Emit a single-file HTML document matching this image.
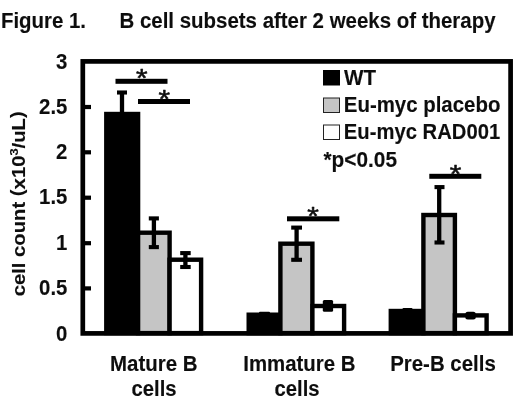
<!DOCTYPE html>
<html><head><meta charset="utf-8"><title>Figure 1</title>
<style>
html,body{margin:0;padding:0;background:#fff;}
svg{display:block;}
text{font-family:"Liberation Sans",Arial,Helvetica,sans-serif;font-weight:bold;fill:#0c0c0c;stroke:#0c0c0c;stroke-width:0.1px;stroke-linejoin:round;}
text.ast{font-weight:normal;stroke-width:0.55px;}
</style></head>
<body>
<svg width="520" height="403" viewBox="0 0 520 403">
<defs><filter id="soft" x="0" y="0" width="520" height="403" filterUnits="userSpaceOnUse"><feGaussianBlur stdDeviation="0.5"/></filter></defs>
<rect x="0" y="0" width="520" height="403" fill="#fff"/>
<g filter="url(#soft)">
<!-- title -->
<text x="1" y="27.8" font-size="21.2" textLength="85" lengthAdjust="spacingAndGlyphs">Figure 1.</text>
<text x="119.5" y="27.8" font-size="21.2" textLength="376" lengthAdjust="spacingAndGlyphs">B cell subsets after 2 weeks of therapy</text>

<!-- bars -->
<g stroke="#000" stroke-width="4.4" stroke-linejoin="miter">
<rect x="106.3" y="114" width="31.8" height="219" fill="#000"/>
<rect x="138.1" y="232.7" width="31.5" height="100.4" fill="#c5c5c5"/>
<rect x="169.6" y="259.7" width="31.5" height="73.4" fill="#fff"/>

<rect x="248.7" y="314.7" width="31.7" height="18.4" fill="#000"/>
<rect x="280.4" y="243.7" width="32" height="89.4" fill="#c5c5c5"/>
<rect x="312.4" y="306" width="31.7" height="27.1" fill="#fff"/>

<rect x="390.8" y="311" width="32.6" height="22.1" fill="#000"/>
<rect x="423.4" y="215" width="31.5" height="118.1" fill="#c5c5c5"/>
<rect x="454.9" y="315.4" width="31.7" height="17.7" fill="#fff"/>
</g>

<!-- frame -->
<rect x="82.8" y="61.4" width="427.8" height="272" fill="none" stroke="#000" stroke-width="4.7"/>
<!-- ticks -->
<g stroke="#000" stroke-width="4.2">
<line x1="84" y1="107" x2="91" y2="107"/>
<line x1="84" y1="152.3" x2="91" y2="152.3"/>
<line x1="84" y1="197.7" x2="91" y2="197.7"/>
<line x1="84" y1="243.2" x2="91" y2="243.2"/>
<line x1="84" y1="288.4" x2="91" y2="288.4"/>
</g>

<!-- error bars -->
<g stroke="#000" fill="none">
<g stroke-width="4.3">
<line x1="122" y1="92" x2="122" y2="113"/>
<line x1="153.9" y1="218" x2="153.9" y2="247"/>
<line x1="185.4" y1="252" x2="185.4" y2="268"/>
<line x1="296.6" y1="227" x2="296.6" y2="260"/>
<line x1="439.2" y1="187" x2="439.2" y2="243"/>
</g>
<g stroke-width="4.1">
<line x1="117" y1="92.5" x2="127" y2="92.5"/>
<line x1="148.8" y1="218.4" x2="158.9" y2="218.4"/>
<line x1="148.8" y1="247.1" x2="158.9" y2="247.1"/>
<line x1="180.2" y1="253.1" x2="190.7" y2="253.1"/>
<line x1="180.2" y1="267" x2="190.7" y2="267"/>
<line x1="291.2" y1="227.6" x2="302" y2="227.6"/>
<line x1="291.2" y1="259.8" x2="302" y2="259.8"/>
<line x1="434.5" y1="187.1" x2="444.5" y2="187.1"/>
<line x1="434.5" y1="242.5" x2="444.5" y2="242.5"/>
</g>
</g>
<rect x="259" y="311.7" width="11" height="2" rx="1" fill="#000"/>
<rect x="402.5" y="308" width="10" height="2" rx="1" fill="#000"/>
<rect x="322.8" y="299.9" width="10.3" height="11.8" rx="1.5" fill="#000"/>
<rect x="465.3" y="311.8" width="10.5" height="7.8" rx="2.5" fill="#000"/>

<!-- significance bars -->
<g fill="#000">
<rect x="115.5" y="78.8" width="52" height="5"/>
<rect x="138" y="99" width="52" height="5"/>
<rect x="287" y="216.3" width="52.3" height="5"/>
<rect x="429.3" y="173.8" width="52" height="5"/>
</g>
<g font-size="26.5" text-anchor="middle">
<text class="ast" transform="translate(141.7,87.2) scale(1.12,1)">*</text>
<text class="ast" transform="translate(164.2,108.2) scale(1.12,1)">*</text>
<text class="ast" transform="translate(312.9,224.9) scale(1.12,1)">*</text>
<text class="ast" transform="translate(455.4,182.6) scale(1.12,1)">*</text>
</g>

<!-- legend -->
<rect x="323.5" y="70.5" width="16" height="14.5" fill="#000" stroke="#000" stroke-width="1"/>
<rect x="323.5" y="98" width="16" height="14.5" fill="#c5c5c5" stroke="#222" stroke-width="1"/>
<rect x="323.5" y="125" width="16" height="14.5" fill="#fff" stroke="#222" stroke-width="1"/>
<text x="344" y="85" font-size="21.2" textLength="32" lengthAdjust="spacingAndGlyphs">WT</text>
<text x="343.8" y="111.8" font-size="21.2" textLength="156.6" lengthAdjust="spacingAndGlyphs">Eu-myc placebo</text>
<text x="343.8" y="138.8" font-size="21.2" textLength="156.4" lengthAdjust="spacingAndGlyphs">Eu-myc RAD001</text>
<text x="323.5" y="167" font-size="21.2" textLength="73.5" lengthAdjust="spacingAndGlyphs">*p&lt;0.05</text>

<!-- y tick labels -->
<g font-size="21.2" text-anchor="end">
<text transform="translate(67.4,68.5) scale(0.96,1)">3</text>
<text transform="translate(67.4,113.7) scale(0.96,1)">2.5</text>
<text transform="translate(67.4,159) scale(0.96,1)">2</text>
<text transform="translate(67.4,204.4) scale(0.96,1)">1.5</text>
<text transform="translate(67.4,249.7) scale(0.96,1)">1</text>
<text transform="translate(67.4,295) scale(0.96,1)">0.5</text>
<text transform="translate(67.4,340.9) scale(0.96,1)">0</text>
</g>

<!-- y label -->
<text transform="translate(24.8,296.3) rotate(-90)" font-size="18.2" textLength="185" lengthAdjust="spacingAndGlyphs">cell count <tspan dy="-2.3">(</tspan><tspan dy="2.3">x10</tspan><tspan font-size="11.5" dy="-7.2">3</tspan><tspan dy="7.2">/uL</tspan><tspan dy="-2.3">)</tspan></text>

<!-- x labels -->
<g font-size="21.2">
<text x="110" y="370.6" textLength="87.6" lengthAdjust="spacingAndGlyphs">Mature B</text>
<text x="131.5" y="395.6" textLength="45" lengthAdjust="spacingAndGlyphs">cells</text>
<text x="243.3" y="370.6" textLength="112.2" lengthAdjust="spacingAndGlyphs">Immature B</text>
<text x="274.5" y="395.6" textLength="45" lengthAdjust="spacingAndGlyphs">cells</text>
<text x="390.2" y="370.6" textLength="105.6" lengthAdjust="spacingAndGlyphs">Pre-B cells</text>
</g>
</g>
</svg>
</body></html>
